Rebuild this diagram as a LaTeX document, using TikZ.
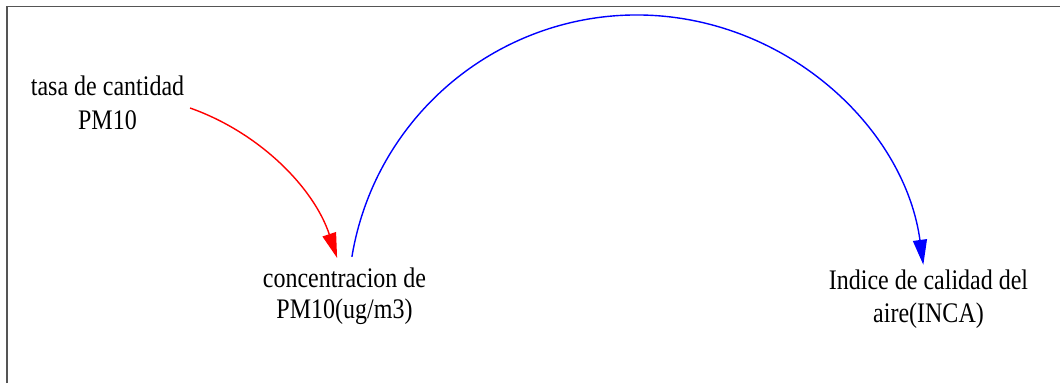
\documentclass[tikz,border=0pt]{standalone}
\usepackage{fontspec}
\usepackage{graphicx}
\setmainfont{Liberation Serif}
\usetikzlibrary{arrows.meta}
\definecolor{frame}{RGB}{85,85,85}
\newcommand{\tl}[1]{\scalebox{1}[1.18]{#1}}
\tikzset{
  var/.style={inner sep=0pt, align=center},
  link/.style={line width=1.4pt, -{Triangle[length=25pt,width=14pt]}},
}
\begin{document}
\begin{tikzpicture}[x=1pt,y=-1pt]
\useasboundingbox (0,0) rectangle (1060,383);
\draw[frame, line width=1.6pt] (6.8,383) -- (6.8,6.6) -- (1060,6.6);
\node[var, font=\fontsize{24}{34}\selectfont] (A) at (107.5,103.3) {\tl{tasa de cantidad}\\\tl{PM10}};
\node[var, font=\fontsize{24}{31}\selectfont] (B) at (344.5,295.9) {\tl{concentracion de}\\\tl{PM10(ug/m3)}};
\node[var, font=\fontsize{24}{33}\selectfont] (C) at (928.5,298.9) {\tl{Indice de calidad del}\\\tl{aire(INCA)}};
\coordinate (a1) at (190,108);
\coordinate (b1) at (351.9,256.8);
\draw[link, red] (a1) arc[start angle=-70.6, end angle=-18.3, radius=238.3];
\draw[link, blue] (b1) arc[start angle=-170.6, end angle=-7.8, radius=289];
\end{tikzpicture}
\end{document}
